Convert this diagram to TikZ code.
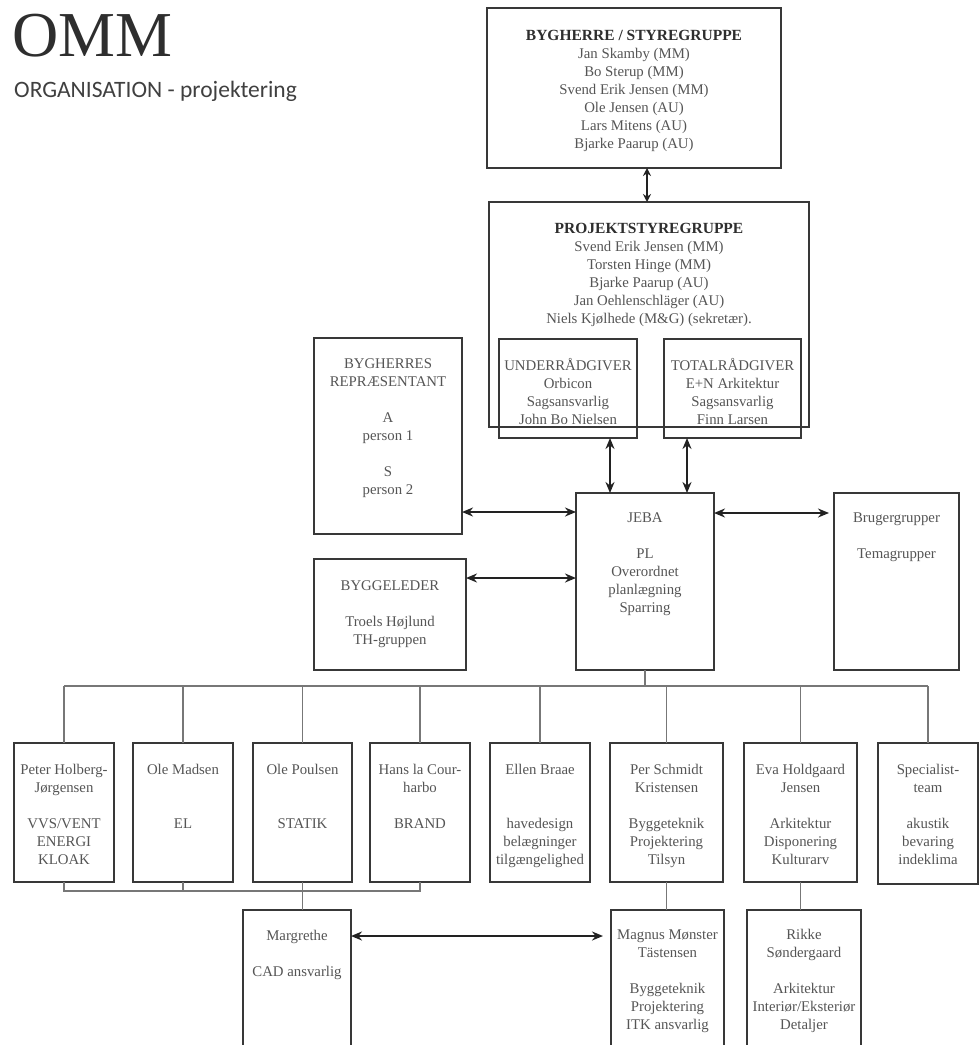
\documentclass[tikz,border=0pt]{standalone}
\usepackage{fontspec}
\setmainfont{Liberation Serif}
\newfontfamily\subfont{Carlito}
\usetikzlibrary{arrows.meta}
\definecolor{boxc}{HTML}{383838}
\definecolor{txtc}{HTML}{555555}
\definecolor{headc}{HTML}{2E2E2E}
\definecolor{connc}{HTML}{777777}
\definecolor{arrc}{HTML}{222222}
\tikzset{
  orgbox/.style={draw=boxc, line width=2.4pt, inner sep=0pt, outer sep=0pt, anchor=north west},
  txt/.style={align=center, inner sep=0pt, text=txtc, font=\fontsize{14.8}{18}\selectfont, anchor=north,
    execute at begin node=\rule{0pt}{13pt}},
  conn/.style={draw=connc, line width=1.4pt},
  arr/.style={draw=arrc, line width=2.2pt, {Stealth[length=11pt,width=9pt]}-{Stealth[length=11pt,width=9pt]}},
  sarr/.style={draw=arrc, line width=2.2pt, {Stealth[length=8pt,width=8pt]}-{Stealth[length=8pt,width=8pt]}}
}
\newcommand{\hdtxt}[1]{{\color{headc}\fontsize{15.5}{18}\selectfont\bfseries #1}}
\begin{document}
\begin{tikzpicture}[x=1pt,y=-1pt]
\fill[white] (0,0) rectangle (979,1045);
\clip (0,0) rectangle (979,1045);

% title
\node[anchor=base west, inner sep=0pt, text=headc, font=\fontsize{64}{70}\selectfont] (omm) at (12,56) {OMM};
\node[anchor=base west, inner sep=0pt, text=black!75, font=\subfont\fontsize{23.5}{26}\selectfont] (sub) at (14,97) {ORGANISATION - projektering};

% boxes
\node[orgbox, minimum width=294pt, minimum height=160pt] (top) at (487,8) {};
\node[orgbox, minimum width=320pt, minimum height=225pt] (proj) at (489,202) {};
\node[orgbox, minimum width=138pt, minimum height=99pt] (under) at (499,339) {};
\node[orgbox, minimum width=137pt, minimum height=99pt] (total) at (664,339) {};
\node[orgbox, minimum width=148pt, minimum height=196pt] (repr) at (314,338) {};
\node[orgbox, minimum width=152pt, minimum height=111pt] (bygl) at (314,559) {};
\node[orgbox, minimum width=138pt, minimum height=177pt] (jeba) at (576,493) {};
\node[orgbox, minimum width=125pt, minimum height=177pt] (brug) at (834,493) {};

\node[orgbox, minimum width=100pt, minimum height=139pt] (b1) at (14,743) {};
\node[orgbox, minimum width=100pt, minimum height=139pt] (b2) at (133,743) {};
\node[orgbox, minimum width=99pt, minimum height=139pt] (b3) at (253,743) {};
\node[orgbox, minimum width=100pt, minimum height=139pt] (b4) at (370,743) {};
\node[orgbox, minimum width=100pt, minimum height=139pt] (b5) at (490,743) {};
\node[orgbox, minimum width=113pt, minimum height=139pt] (b6) at (610,743) {};
\node[orgbox, minimum width=113pt, minimum height=139pt] (b7) at (744,743) {};
\node[orgbox, minimum width=100pt, minimum height=141pt] (b8) at (878,743) {};

\node[orgbox, minimum width=108pt, minimum height=160pt] (marg) at (243,910) {};
\node[orgbox, minimum width=113pt, minimum height=160pt] (magnus) at (611,910) {};
\node[orgbox, minimum width=114pt, minimum height=160pt] (rikke) at (747,910) {};

% texts
\node[txt] (topt) at (634,30) {\hdtxt{BYGHERRE / STYREGRUPPE}\\Jan Skamby (MM)\\Bo Sterup (MM)\\Svend Erik Jensen (MM)\\Ole Jensen (AU)\\Lars Mitens (AU)\\Bjarke Paarup (AU)};
\node[txt] (projt) at (649,223) {\hdtxt{PROJEKTSTYREGRUPPE}\\Svend Erik Jensen (MM)\\Torsten Hinge (MM)\\Bjarke Paarup (AU)\\Jan Oehlenschläger (AU)\\Niels Kjølhede (M\&G) (sekretær).};
\node[txt] (undert) at (568,358) {UNDERRÅDGIVER\\Orbicon\\Sagsansvarlig\\John Bo Nielsen};
\node[txt] (totalt) at (732.5,358) {TOTALRÅDGIVER\\E+N Arkitektur\\Sagsansvarlig\\Finn Larsen};
\node[txt] (reprt) at (388,358) {BYGHERRES\\REPRÆSENTANT\\[18pt]A\\person 1\\[18pt]S\\person 2};
\node[txt] (byglt) at (390,580) {BYGGELEDER\\[18pt]Troels Højlund\\TH-gruppen};
\node[txt] (jebat) at (645,513) {JEBA\\[18pt]PL\\Overordnet\\planlægning\\Sparring};
\node[txt] (brugt) at (896.5,513) {Brugergrupper\\[18pt]Temagrupper};

\node[txt] (b1t) at (64,764) {Peter Holberg-\\Jørgensen\\[18pt]VVS/VENT\\ENERGI\\KLOAK};
\node[txt] (b2t) at (183,764) {Ole Madsen\\[36pt]EL};
\node[txt] (b3t) at (302.5,764) {Ole Poulsen\\[36pt]STATIK};
\node[txt] (b4t) at (420,764) {Hans la Cour-\\harbo\\[18pt]BRAND};
\node[txt] (b5t) at (540,764) {Ellen Braae\\[36pt]havedesign\\belægninger\\tilgængelighed};
\node[txt] (b6t) at (666.5,764) {Per Schmidt\\Kristensen\\[18pt]Byggeteknik\\Projektering\\Tilsyn};
\node[txt] (b7t) at (800.5,764) {Eva Holdgaard\\Jensen\\[18pt]Arkitektur\\Disponering\\Kulturarv};
\node[txt] (b8t) at (928,764) {Specialist-\\team\\[18pt]akustik\\bevaring\\indeklima};

\node[txt] (margt) at (297,930) {Margrethe\\[18pt]CAD ansvarlig};
\node[txt] (magnust) at (667.5,930) {Magnus Mønster\\Tästensen\\[18pt]Byggeteknik\\Projektering\\ITK ansvarlig};
\node[txt] (rikket) at (804,929) {Rikke\\Søndergaard\\[18pt]Arkitektur\\Interiør/Eksteriør\\Detaljer};

% helper coordinates
\coordinate (bus) at (0,686);
\coordinate (bus2) at (0,891);
\coordinate (ya) at (0,512);
\coordinate (yb) at (0,578);
\coordinate (yc) at (0,513);
\coordinate (yd) at (0,936);
\coordinate (xa) at (610,0);
\coordinate (xb) at (687,0);
\coordinate (xc) at (647,0);

% tree connectors
\draw[conn] (jeba.south) -- (jeba.south |- bus);
\draw[conn] (b1.north |- bus) -- (b8.north |- bus);
\foreach \n in {b1,b2,b3,b4,b5,b6,b7,b8} \draw[conn] (\n.north) -- (\n.north |- bus);
\draw[conn] (b1.south) -- (b1.south |- bus2) -- (b4.south |- bus2) -- (b4.south);
\draw[conn] (b2.south) -- (b2.south |- bus2);
\draw[conn] (b3.south) -- (b3.south |- marg.north);
\draw[conn] (b6.south) -- (b6.south |- magnus.north);
\draw[conn] (b7.south) -- (b7.south |- rikke.north);

% arrows
\draw[sarr] (top.south -| xc) -- (proj.north -| xc);
\draw[arr] (under.south -| xa) -- (jeba.north -| xa);
\draw[arr] (total.south -| xb) -- (jeba.north -| xb);
\draw[arr] (repr.east |- ya) -- (jeba.west |- ya);
\draw[arr] (bygl.east |- yb) -- (jeba.west |- yb);
\draw[arr] (jeba.east |- yc) -- ([xshift=-5pt]brug.west |- yc);
\draw[arr] (marg.east |- yd) -- ([xshift=-8pt]magnus.west |- yd);
\end{tikzpicture}
\end{document}
